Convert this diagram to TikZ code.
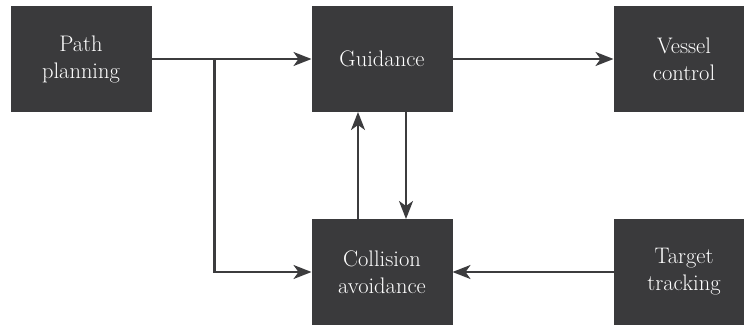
\documentclass[tikz,border=0pt]{standalone}
\usepackage{fontspec}
\usetikzlibrary{arrows.meta,positioning}
\definecolor{boxGray}{RGB}{58,58,60}
\definecolor{lineGray}{RGB}{60,60,62}
\tikzset{
  box/.style={fill=boxGray, text=white, align=center, minimum width=141pt, minimum height=106pt, inner sep=0pt, outer sep=0pt, font=\fontsize{22.5}{27}\selectfont},
  flow/.style={-{Stealth[length=18pt, width=14pt, inset=5pt]}, line width=2.2pt, draw=lineGray}
}

\begin{document}
\begin{tikzpicture}[node distance=160pt]
        \useasboundingbox (0pt,0pt) rectangle (744pt,-324pt);
        \clip (0pt,0pt) rectangle (744pt,-324pt);
        \node[box] (path) at (81pt,-59pt) {Path\\planning};
        \node[box, right=160pt of path] (guide) {Guidance};
        \node[box, right=161pt of guide] (vessel) {Vessel\\control};
        \node[box, below=107pt of guide] (avoid) {Collision\\avoidance};
        \node[box, right=161pt of avoid] (track) {Target\\tracking};
        \coordinate (split) at ([xshift=63pt]path.east);
        \draw[flow] (path) -- (guide);
        \draw[flow] (guide) -- (vessel);
        \draw[flow] (split) |- (avoid);
        \draw[flow] ([xshift=-24pt]avoid.north) -- ([xshift=-24pt]guide.south);
        \draw[flow] ([xshift=24pt]guide.south) -- ([xshift=24pt]avoid.north);
        \draw[flow] (track) -- (avoid);
      \end{tikzpicture}
\end{document}
